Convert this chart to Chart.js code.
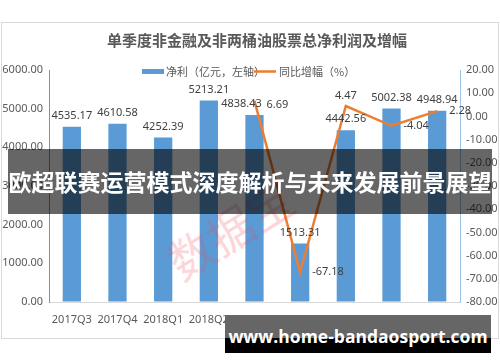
<!DOCTYPE html>
<html>
<head>
<meta charset="utf-8">
<script src="https://cdn.jsdelivr.net/npm/chart.js@4.4.0/dist/chart.umd.min.js"></script>
<style>
    body { margin: 0; width: 500px; height: 362px; background: #fff; position: relative; overflow: hidden; font-family: "Noto Sans CJK SC", sans-serif; }
    #box { position: absolute; left: 1px; top: 22px; width: 496px; height: 315px; border: 1px solid #d9d9d9; }
    #chart { position: absolute; left: 0; top: 0; }
    .banner { position: absolute; left: 8px; top: 149px; width: 484px; height: 65px; background: rgba(0,0,0,0.6); color: #fff; font-size: 23px; font-weight: bold; line-height: 65px; text-align: center; white-space: nowrap; }
    .site { position: absolute; left: 225px; top: 315px; width: 266px; height: 38px; background: linear-gradient(#666 0, #666 23px, #000 23px); color: #fff; font-family: "Open Sans", sans-serif; font-size: 17.5px; font-weight: bold; line-height: 42px; text-align: center; white-space: nowrap; }
    .stamp { position: absolute; left: 160px; top: 195px; font-size: 46px; color: rgba(235,70,80,0.22); transform: rotate(-32deg); white-space: nowrap; }
</style>
</head>
<body>
<div id="box"></div>
<canvas id="chart" width="500" height="362"></canvas>
<div class="stamp">数据宝</div>
<div class="banner">欧超联赛运营模式深度解析与未来发展前景展望</div>
<div class="site">www.home-bandaosport.com</div>
<script>
const quarters = ['2017Q3', '2017Q4', '2018Q1', '2018Q2', '2018Q3', '2018Q4', '2019Q1', '2019Q2', '2019Q3'];
const netProfit = [4535.17, 4610.58, 4252.39, 5213.21, 4838.43, 1513.31, 4442.56, 5002.38, 4948.94];
const growthPct = [null, null, null, null, 6.69, -67.18, 4.47, -4.04, 2.28];
const leftTicks = [0, 1000, 2000, 3000, 4000, 5000, 6000];
const rightTicks = [-80, -70, -60, -50, -40, -30, -20, -10, 0, 10, 20];

const titleText = '单季度非金融及非两桶油股票总净利润及增幅';
const barName = '净利（亿元，左轴）';
const lineName = '同比增幅（%）';

const textColor = '#595959';
const labelFont = '11px "Noto Sans", sans-serif';

// title, legend and value labels drawn on the canvas
const decorPlugin = {
    id: 'decor',
    afterDatasetsDraw(chart) {
        const ctx = chart.ctx;
        ctx.save();

        // title
        ctx.fillStyle = textColor;
        ctx.font = 'bold 15px "Noto Sans CJK SC"';
        ctx.textAlign = 'center';
        ctx.textBaseline = 'middle';
        ctx.fillText(titleText, 257, 40);

        // legend
        ctx.font = '11px "Noto Sans CJK SC"';
        ctx.textAlign = 'left';
        ctx.fillStyle = '#5b9bd5';
        ctx.fillRect(142, 69, 22, 5);
        ctx.fillStyle = textColor;
        ctx.fillText(barName, 166, 72);
        ctx.strokeStyle = '#ed7d31';
        ctx.lineWidth = 2.5;
        ctx.beginPath();
        ctx.moveTo(254, 71.5);
        ctx.lineTo(276, 71.5);
        ctx.stroke();
        ctx.fillText(lineName, 279, 72);

        // bar value labels
        ctx.font = labelFont;
        ctx.fillStyle = '#404040';
        ctx.textAlign = 'center';
        chart.getDatasetMeta(0).data.forEach((bar, i) => {
            let x = bar.x;
            if (i === 4) x -= 13;
            ctx.fillText(netProfit[i].toFixed(2), x, bar.y - 11);
        });

        // line value labels
        chart.getDatasetMeta(1).data.forEach((pt, i) => {
            if (growthPct[i] === null) return;
            const txt = growthPct[i].toFixed(2);
            if (i === 6) {
                ctx.textAlign = 'center';
                ctx.fillText(txt, pt.x, pt.y - 10);
            } else {
                ctx.textAlign = 'left';
                ctx.fillText(txt, pt.x + 12, pt.y + (i === 4 ? 4 : 0));
            }
        });
        ctx.restore();
    }
};

new Chart(document.getElementById('chart'), {
    type: 'bar',
    data: {
        labels: quarters,
        datasets: [{
            type: 'bar',
            label: barName,
            data: netProfit,
            backgroundColor: '#5b9bd5',
            barPercentage: 0.8,
            categoryPercentage: 0.5,
            yAxisID: 'y',
            order: 2
        }, {
            type: 'line',
            label: lineName,
            data: growthPct,
            borderColor: '#ed7d31',
            backgroundColor: '#ed7d31',
            borderWidth: 2.5,
            pointRadius: 0,
            tension: 0,
            yAxisID: 'y1',
            order: 1
        }]
    },
    options: {
        responsive: false,
        animation: false,
        layout: { padding: { top: 70, bottom: 36, left: 0, right: 0 } },
        plugins: {
            legend: { display: false },
            title: { display: false },
            tooltip: { enabled: false }
        },
        scales: {
            x: {
                grid: { display: false },
                border: { color: '#d9d9d9' },
                ticks: { color: textColor, font: { size: 11, family: '"Noto Sans", sans-serif' }, padding: 3, maxRotation: 0 },
                afterFit(scale) { scale.height = 24; }
            },
            y: {
                position: 'left',
                min: 0,
                max: 6000,
                afterBuildTicks(scale) { scale.ticks = leftTicks.map(v => ({ value: v })); },
                grid: { drawOnChartArea: false, drawTicks: false },
                border: { color: '#5b9bd5' },
                ticks: {
                    color: textColor,
                    font: { size: 11, family: '"Noto Sans", sans-serif' },
                    padding: 6,
                    callback: v => v.toFixed(2)
                },
                afterFit(scale) { scale.width = 49; }
            },
            y1: {
                position: 'right',
                min: -80,
                max: 20,
                afterBuildTicks(scale) { scale.ticks = rightTicks.map(v => ({ value: v })); },
                grid: { drawOnChartArea: false, drawTicks: false },
                border: { color: '#9dc3e6' },
                ticks: {
                    color: textColor,
                    font: { size: 11, family: '"Noto Sans", sans-serif' },
                    padding: 6,
                    callback: v => v.toFixed(2)
                },
                afterFit(scale) { scale.width = 40; }
            }
        }
    },
    plugins: [decorPlugin]
});
</script>
</body>
</html>
